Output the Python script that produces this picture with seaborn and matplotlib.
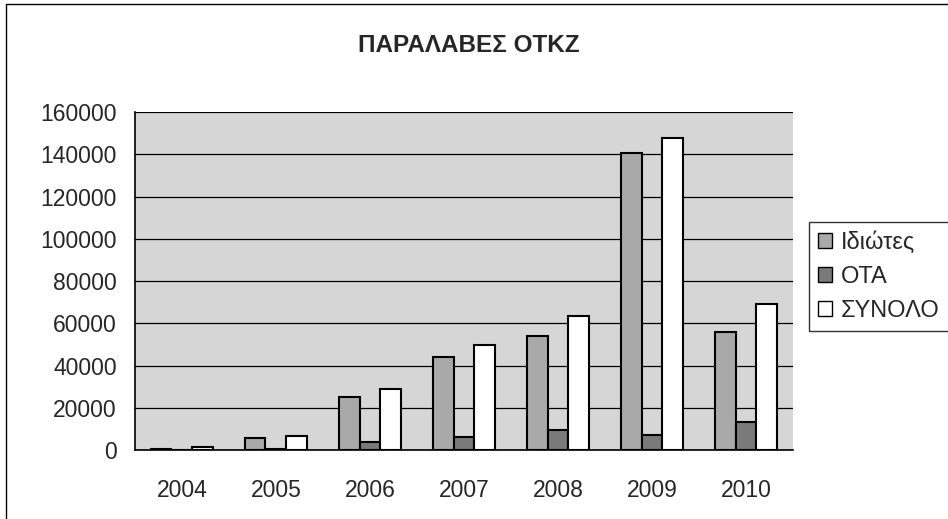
import pandas as pd
import matplotlib.pyplot as plt
import seaborn as sns
from matplotlib.lines import Line2D
from matplotlib.ticker import FixedLocator

# Values
years = ["2004", "2005", "2006", "2007", "2008", "2009", "2010"]
idiotes = [500, 5800, 25200, 43800, 53800, 140500, 56000]
ota = [100, 500, 3700, 6100, 9700, 7000, 13200]
synolo = [1200, 6700, 29000, 49900, 63500, 147500, 69200]
series = ["Ιδιώτες", "ΟΤΑ", "ΣΥΝΟΛΟ"]
colors = ["#a9a9a9", "#7a7a7a", "#ffffff"]

df = pd.DataFrame({"year": years, series[0]: idiotes, series[1]: ota, series[2]: synolo})
df = df.melt(id_vars="year", var_name="series", value_name="value")

sns.set_style("white")
plt.rcParams["font.family"] = ["Liberation Sans", "DejaVu Sans"]

fig = plt.figure(figsize=(9.48, 5.19), dpi=100)
ax = fig.add_axes([0.1424, 0.1329, 0.6941, 0.6513])
ax.set_facecolor("#d6d6d6")

sns.barplot(data=df, x="year", y="value", hue="series", hue_order=series,
            palette=colors, width=0.67, gap=0, edgecolor="black", linewidth=1.5,
            saturation=1, ax=ax, zorder=3, legend=False)

ax.set_ylim(0, 160000)
ax.set_xlim(-0.5, len(years) - 0.5)
ax.set_yticks(range(0, 160001, 20000))
ax.yaxis.grid(True, color="black", linewidth=0.9, zorder=1)
ax.set_axisbelow(True)
ax.set_xlabel("")
ax.set_ylabel("")

for s in ["top", "right"]:
    ax.spines[s].set_visible(False)
for s in ["left", "bottom"]:
    ax.spines[s].set_color("black")
    ax.spines[s].set_linewidth(1.2)

ax.tick_params(axis="y", direction="out", length=5, width=1, color="black",
               labelsize=16.5, pad=8)
ax.tick_params(axis="x", which="major", length=0, labelsize=16.5, pad=21)
ax.xaxis.set_minor_locator(FixedLocator([i - 0.5 for i in range(len(years) + 1)]))
ax.tick_params(axis="x", which="minor", direction="out", length=5, width=1, color="black")

handles = [plt.Rectangle((0, 0), 1, 1, facecolor=c, edgecolor="black", linewidth=1)
           for c in colors]
leg = fig.legend(handles, series, loc="upper left", bbox_to_anchor=(0.853, 0.572),
                 frameon=True, fancybox=False, fontsize=17, handlelength=0.6,
                 handleheight=0.6, handletextpad=0.35, borderpad=0.4,
                 labelspacing=0.5, borderaxespad=0)
leg.get_frame().set_edgecolor("black")
leg.get_frame().set_linewidth(1)

fig.text(0.495, 0.912, "ΠΑΡΑΛΑΒΕΣ ΟΤΚΖ", ha="center", va="center",
         fontsize=17.5, fontweight="bold")

# outer chart border (left and top edges visible)
fig.add_artist(Line2D([0.006, 0.006], [0.0, 0.992], color="black", linewidth=1))
fig.add_artist(Line2D([0.006, 1.0], [0.992, 0.992], color="black", linewidth=1))

plt.savefig("out.png", dpi=100)
